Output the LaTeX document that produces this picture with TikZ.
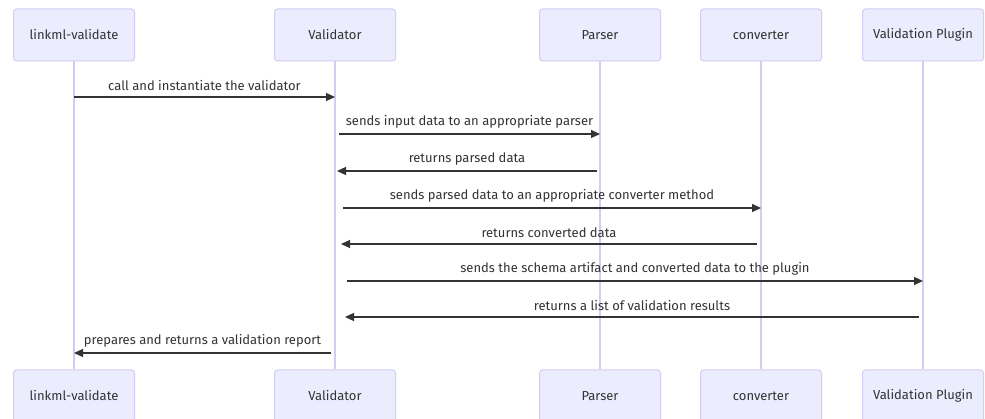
\documentclass[tikz,border=0pt]{standalone}
\usepackage{fontspec}
\setmainfont{Fira Sans}
\usetikzlibrary{arrows.meta}
\definecolor{actorfill}{HTML}{ECECFF}
\definecolor{actorline}{HTML}{D5CCF3}
\definecolor{msgcol}{HTML}{333333}

\begin{document}
\begin{tikzpicture}[x=1pt, y=-1pt,
          actor/.style = {draw=actorline, fill=actorfill, rounded corners=3pt, line width=1pt,
            minimum width=121pt, minimum height=52pt, text=msgcol, font=\fontsize{13}{15}\selectfont},
          lifeline/.style = {draw=actorline, line width=1.2pt},
          msg/.style = {draw=msgcol, line width=1.3pt, -{Triangle[length=9pt,width=8pt]}},
          msglabel/.style = {above=5.5pt, inner sep=0pt, text=msgcol, font=\fontsize{13}{15}\selectfont}
          ]
          \clip (0,0) rectangle (985,419);
          \fill[white] (0,0) rectangle (985,419);
          \node[actor] (lv) at (74,35) {linkml-validate};
          \node[actor] (val) at (335,35) {Validator};
          \node[actor] (par) at (600,35) {Parser};
          \node[actor] (conv) at (761,35) {converter};
          \node[actor] (plug) at (923,35) {Validation Plugin};
          \node[actor] (lvb) at (74,396) {linkml-validate};
          \node[actor] (valb) at (335,396) {Validator};
          \node[actor] (parb) at (600,396) {Parser};
          \node[actor] (convb) at (761,396) {converter};
          \node[actor] (plugb) at (923,396) {Validation Plugin};
          \draw[lifeline] (lv) -- (lvb);
          \draw[lifeline] (val) -- (valb);
          \draw[lifeline] (par) -- (parb);
          \draw[lifeline] (conv) -- (convb);
          \draw[lifeline] (plug) -- (plugb);
          \coordinate (m1) at (0,97);
          \coordinate (m2) at (0,134);
          \coordinate (m3) at (0,171);
          \coordinate (m4) at (0,208);
          \coordinate (m5) at (0,244);
          \coordinate (m6) at (0,281);
          \coordinate (m7) at (0,317);
          \coordinate (m8) at (0,353);
          \draw[msg] (lv |- m1) -- node[msglabel] {call and instantiate the validator} (val |- m1);
          \draw[msg] ([xshift=4pt]val |- m2) -- node[msglabel] {sends input data to an appropriate parser} (par |- m2);
          \draw[msg] ([xshift=-3pt]par |- m3) -- node[msglabel] {returns parsed data} ([xshift=2pt]val |- m3);
          \draw[msg] ([xshift=8pt]val |- m4) -- node[msglabel] {sends parsed data to an appropriate converter method} (conv |- m4);
          \draw[msg] ([xshift=-4pt]conv |- m5) -- node[msglabel] {returns converted data} ([xshift=6pt]val |- m5);
          \draw[msg] ([xshift=12pt]val |- m6) -- node[msglabel] {sends the schema artifact and converted data to the plugin} (plug |- m6);
          \draw[msg] ([xshift=-4pt]plug |- m7) -- node[msglabel] {returns a list of validation results} ([xshift=10pt]val |- m7);
          \draw[msg] ([xshift=-4pt]val |- m8) -- node[msglabel] {prepares and returns a validation report} (lv |- m8);
        \end{tikzpicture}
\end{document}
